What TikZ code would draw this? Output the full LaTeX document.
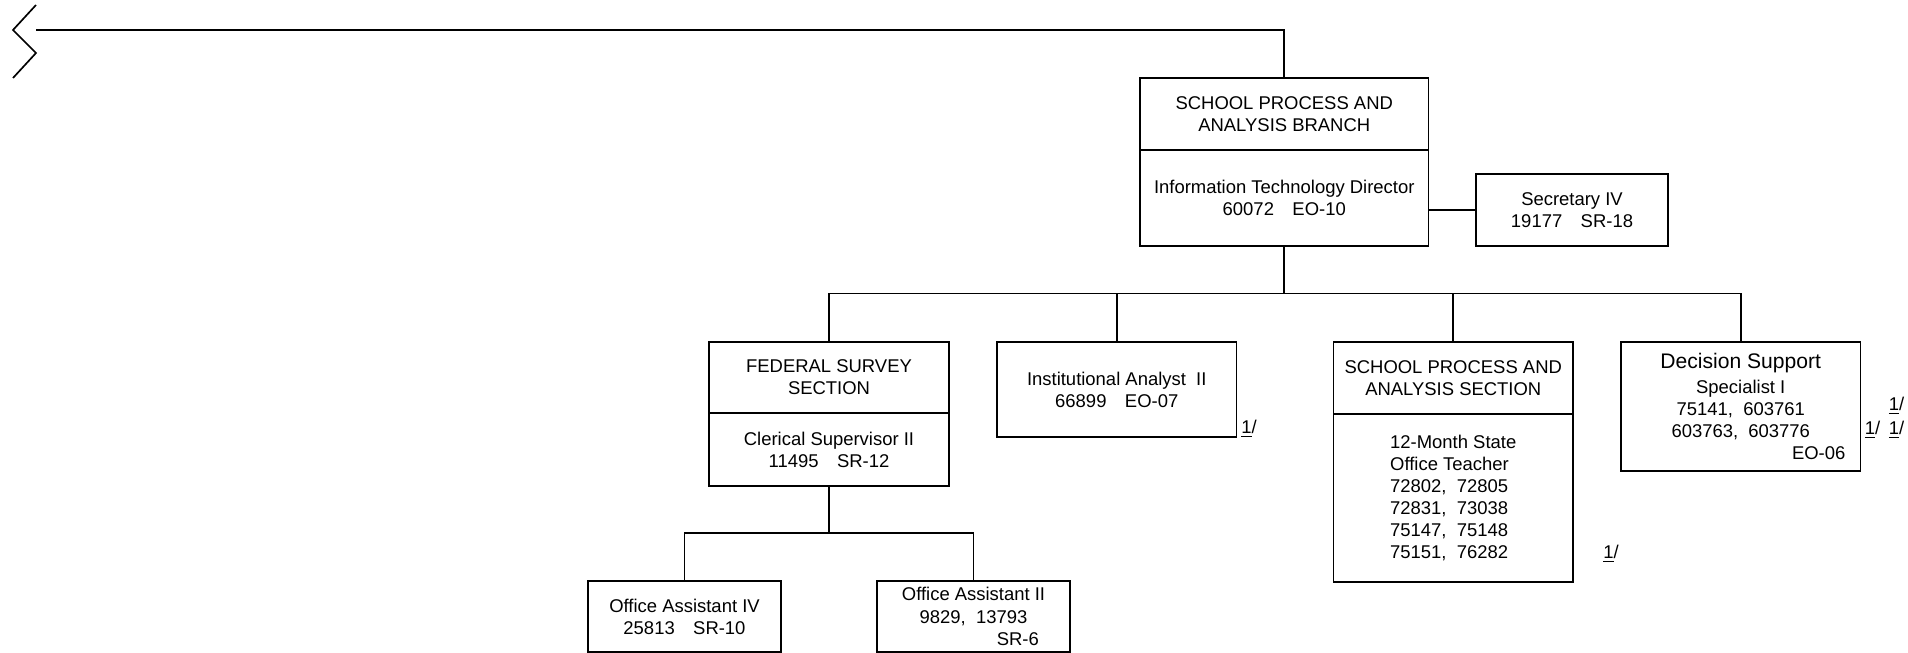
\documentclass[tikz,border=0pt]{standalone}
\usepackage{fontspec}
\setmainfont{Liberation Sans}
\usetikzlibrary{positioning}

\begin{document}
\begin{tikzpicture}[
    every node/.style={font=\fontsize{10.5}{12.6}\selectfont},
    box/.style={draw, line width=0.95pt, align=center, inner sep=0pt, outer sep=0pt},
    link/.style={line width=0.95pt},
    footmark/.style={anchor=west, inner sep=0pt}]
    \useasboundingbox (0,0) rectangle (38.16,-13.06);

    % branch and secretary
    \node[box, minimum width=5.77cm, minimum height=1.44cm] (branchhead) at (25.685,-2.28) {SCHOOL PROCESS AND\\ANALYSIS BRANCH};
    \node[box, minimum width=5.77cm, minimum height=1.92cm, below=0pt of branchhead] (branch) {Information Technology Director\\60072\quad EO-10};
    \node[box, minimum width=3.84cm, minimum height=1.44cm] (sec) at (31.44,-4.2) {Secretary IV\\19177\quad SR-18};

    % sections
    \node[box, minimum width=4.8cm, minimum height=1.42cm] (fsshead) at (16.58,-7.55) {FEDERAL SURVEY\\SECTION};
    \node[box, minimum width=4.8cm, minimum height=1.46cm, below=0pt of fsshead] (fss) {Clerical Supervisor II\\11495\quad SR-12};
    \node[box, minimum width=4.79cm, minimum height=1.9cm] (ia) at (22.335,-7.79) {Institutional Analyst\ \ II\\66899\quad EO-07};
    \node[box, minimum width=4.79cm, minimum height=1.44cm] (spashead) at (29.065,-7.56) {SCHOOL PROCESS AND\\ANALYSIS SECTION};
    \node[box, align=left, minimum width=4.79cm, minimum height=3.36cm, below=0pt of spashead] (spas) {12-Month State\\Office Teacher\\72802,\ \ 72805\\72831,\ \ 73038\\75147,\ \ 75148\\75151,\ \ 76282};
    \node[box, minimum width=4.79cm, minimum height=2.58cm] (ds) at (34.815,-8.13) {{\fontsize{12}{14}\selectfont Decision Support}\\[1.8pt]Specialist I\\75141,\ \ 603761\\603763,\ \ 603776\\\hspace*{8.45em}EO-06};

    % units under the federal survey section
    \node[box, minimum width=3.86cm, minimum height=1.42cm] (oa4) at (13.69,-12.33) {Office Assistant IV\\25813\quad SR-10};
    \node[box, minimum width=3.86cm, minimum height=1.42cm] (oa2) at (19.47,-12.33) {Office Assistant II\\9829,\ \ 13793\\\hspace*{4.8em}SR-6};

    % notes
    \node[footmark] (iamark) at (24.82,-8.58) {\underline{1}/};
    \node[footmark] (spasmark) at (32.06,-11.08) {\underline{1}/};
    \node[footmark] (dsmarka) at (37.77,-8.12) {\underline{1}/};
    \node[footmark] (dsmarkb) at (37.29,-8.59) {\underline{1}/\hspace{0.47em}\underline{1}/};

    % lines
    \draw[link] (0.72,-0.1) -- (0.26,-0.6) -- (0.72,-1.06) -- (0.26,-1.56);
    \coordinate (edge) at (0.72,-0.6);
    \draw[link] (edge) -| (branchhead.north);
    \draw[link] (sec.west) -- (sec.west -| branch.east);
    \draw[link] (branch.south) -- ++(0,-0.95) coordinate (hub);
    \draw[link] (fsshead.north) |- (hub) -| (ds.north);
    \draw[link] (ia.north) -- (ia.north |- hub);
    \draw[link] (spashead.north) -- (spashead.north |- hub);
    \draw[link] (fss.south) -- ++(0,-0.94) coordinate (subhub);
    \draw[link] (oa4.north) |- (subhub) -| (oa2.north);
\end{tikzpicture}
\end{document}
